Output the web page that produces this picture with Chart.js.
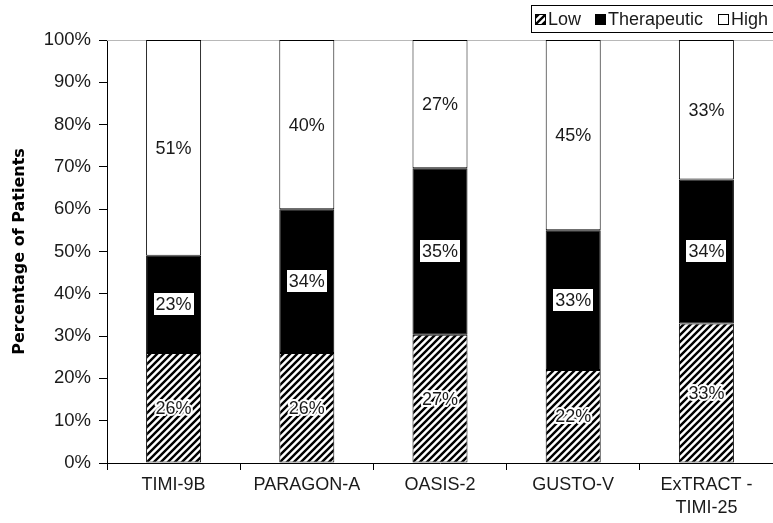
<!DOCTYPE html>
<html>
<head>
<meta charset="utf-8">
<script src="https://cdn.jsdelivr.net/npm/chart.js@4.4.1/dist/chart.umd.min.js"></script>
<style>
html,body{margin:0;padding:0;background:#fff;overflow:hidden;}
#wrap{width:773px;height:523px;position:relative;}
</style>
</head>
<body>
<div id="wrap"><canvas id="c" width="773" height="523"></canvas></div>
<script>
// ---- data ----
const categories = ['TIMI-9B', 'PARAGON-A', 'OASIS-2', 'GUSTO-V', ['ExTRACT -', 'TIMI-25']];
const seriesNames = ['Low', 'Therapeutic', 'High'];
const lowValues = [26, 26, 27, 22, 33];
const therapeuticValues = [23, 34, 35, 33, 34];
const highValues = [51, 40, 27, 45, 33];
const yTickValues = [0, 10, 20, 30, 40, 50, 60, 70, 80, 90, 100];
const yTitle = 'Percentage of Patients';

// 100% stacked: normalise each category by its total
const totals = lowValues.map((v, i) => v + therapeuticValues[i] + highValues[i]);
const pct = arr => arr.map((v, i) => v / totals[i] * 100);
const rawSeries = [lowValues, therapeuticValues, highValues];

function makeHatch() {
  const s = 7;
  const c = document.createElement('canvas');
  c.width = s; c.height = s;
  const g = c.getContext('2d');
  g.fillStyle = '#fff'; g.fillRect(0, 0, s, s);
  g.strokeStyle = '#000'; g.lineWidth = 2.4; g.lineCap = 'square';
  g.beginPath();
  g.moveTo(0, s); g.lineTo(s, 0);
  g.moveTo(-1, 1); g.lineTo(1, -1);
  g.moveTo(s - 1, s + 1); g.lineTo(s + 1, s - 1);
  g.stroke();
  return g.createPattern(c, 'repeat');
}
const hatch = makeHatch();
const fills = [hatch, '#000000', '#ffffff'];

const FONT = '"Liberation Sans", Arial, sans-serif';

const topLine = {
  id: 'topLine',
  beforeDatasetsDraw(chart) {
    const a = chart.chartArea, ctx = chart.ctx;
    ctx.save();
    ctx.strokeStyle = '#b8b8b8'; ctx.lineWidth = 1;
    ctx.beginPath(); ctx.moveTo(a.left, a.top + 0.5); ctx.lineTo(a.right, a.top + 0.5); ctx.stroke();
    ctx.restore();
  }
};

const valueLabels = {
  id: 'valueLabels',
  afterDatasetsDraw(chart) {
    const ctx = chart.ctx;
    ctx.save();
    ctx.font = '18px ' + FONT;
    ctx.textAlign = 'center';
    ctx.textBaseline = 'middle';
    chart.data.datasets.forEach((ds, di) => {
      const meta = chart.getDatasetMeta(di);
      meta.data.forEach((el, i) => {
        const p = el.getProps(['x', 'y', 'base'], true);
        const cy = (p.y + p.base) / 2;
        const txt = rawSeries[di][i] + '%';
        const w = ctx.measureText(txt).width;
        if (di === 1) {
          ctx.fillStyle = '#fff';
          ctx.fillRect(Math.round(p.x - w / 2 - 2), Math.round(cy - 11), Math.round(w + 4), 22);
        } else if (di === 0) {
          ctx.strokeStyle = '#fff'; ctx.lineWidth = 4; ctx.lineJoin = 'round';
          ctx.strokeText(txt, p.x, cy + 1);
        }
        ctx.fillStyle = '#1a1a1a';
        ctx.fillText(txt, p.x, cy + 1);
      });
    });
    ctx.restore();
  }
};

const boxLegend = {
  id: 'boxLegend',
  afterDraw(chart) {
    const ctx = chart.ctx;
    ctx.save();
    ctx.strokeStyle = '#000'; ctx.lineWidth = 1;
    ctx.strokeRect(531.5, 5.5, 320, 27);
    const starts = [535, 595, 718];
    ctx.font = '18px ' + FONT;
    ctx.textAlign = 'left'; ctx.textBaseline = 'middle';
    chart.data.datasets.forEach((ds, i) => {
      const x = starts[i];
      ctx.fillStyle = ds.backgroundColor;
      ctx.fillRect(x, 14, 10, 10);
      ctx.strokeStyle = '#000';
      ctx.strokeRect(x + 0.5, 14.5, 10, 10);
      ctx.fillStyle = '#1a1a1a';
      ctx.fillText(ds.label, x + 13, 20);
    });
    ctx.restore();
  }
};

new Chart(document.getElementById('c'), {
  type: 'bar',
  data: {
    labels: categories,
    datasets: [
      { label: seriesNames[0], data: pct(lowValues), backgroundColor: fills[0] },
      { label: seriesNames[1], data: pct(therapeuticValues), backgroundColor: fills[1] },
      { label: seriesNames[2], data: pct(highValues), backgroundColor: fills[2] }
    ].map(d => Object.assign(d, {
      borderColor: '#000', borderWidth: 1, borderSkipped: false,
      barPercentage: 0.413, categoryPercentage: 1
    }))
  },
  options: {
    responsive: false,
    animation: false,
    layout: { padding: { top: 40, right: 0, bottom: 0, left: 0 } },
    plugins: { legend: { display: false }, tooltip: { enabled: false } },
    scales: {
      x: {
        stacked: true,
        border: { display: true, color: '#000', width: 1 },
        grid: { display: true, drawOnChartArea: false, drawTicks: true, tickLength: 7, color: '#000', offset: true },
        ticks: { color: '#1a1a1a', font: { family: FONT, size: 18, lineHeight: 1.3 }, padding: 3, maxRotation: 0, autoSkip: false },
        afterFit(s) { s.height = 60; }
      },
      y: {
        stacked: true,
        min: 0, max: 100,
        afterBuildTicks(s) { s.ticks = yTickValues.map(v => ({ value: v })); },
        border: { display: true, color: '#000', width: 1 },
        grid: { display: true, drawOnChartArea: false, drawTicks: true, tickLength: 8, color: '#000' },
        ticks: { color: '#1a1a1a', font: { family: FONT, size: 18.5 }, padding: 8, callback: v => v + '%' },
        title: { display: true, text: yTitle, color: '#000', font: { family: '"DejaVu Sans", sans-serif', size: 16, weight: 'bold' }, padding: { top: 10, bottom: 0 } },
        afterFit(s) { s.width = 107; }
      }
    }
  },
  plugins: [topLine, valueLabels, boxLegend]
});
</script>
</body>
</html>
